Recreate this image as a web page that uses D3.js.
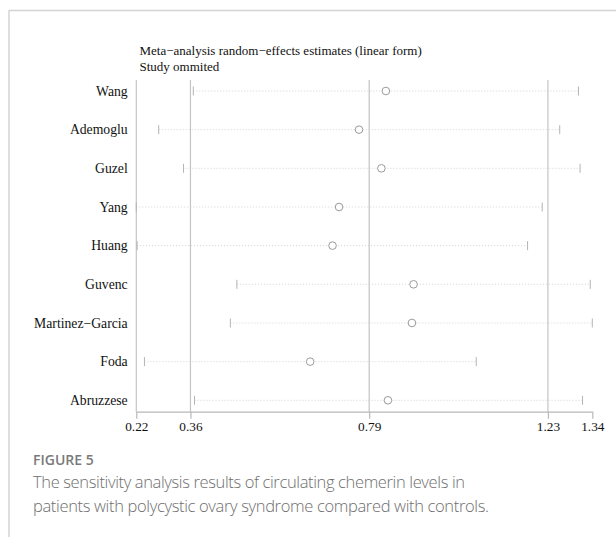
<!DOCTYPE html>
<html>
<head>
<meta charset="utf-8">
<script src="https://cdn.jsdelivr.net/npm/d3@7"></script>
<style>
  html, body { margin: 0; padding: 0; background: #fff; }
  svg { display: block; }
</style>
</head>
<body>
<svg id="chart" width="616" height="537"></svg>
<script>
// ---- data ----
const studies = ["Wang", "Ademoglu", "Guzel", "Yang", "Huang", "Guvenc", "Martinez\u2212Garcia", "Foda", "Abruzzese"];
const estimates = [0.833, 0.767, 0.822, 0.718, 0.702, 0.901, 0.897, 0.647, 0.838];
const lowerCI   = [0.360, 0.275, 0.336, 0.220, 0.222, 0.467, 0.451, 0.240, 0.363];
const upperCI   = [1.306, 1.260, 1.310, 1.217, 1.181, 1.335, 1.340, 1.055, 1.316];
const refLines  = [0.22, 0.353, 0.792, 1.231];
const tickValues = [0.22, 0.353, 0.792, 1.231, 1.34];
const tickLabels = ["0.22", "0.36", "0.79", "1.23", "1.34"];
const titleLines = ["Meta\u2212analysis random\u2212effects estimates (linear form)", "Study ommited"];
const figLabel = "FIGURE 5";
const captionLines = ["The sensitivity analysis results of circulating chemerin levels in",
                      "patients with polycystic ovary syndrome compared with controls."];
const captionWidths = [432, 456];

const svg = d3.select("#chart");
const serif = "'Liberation Serif', 'Times New Roman', Times, serif";
const sans = "'Open Sans', 'Noto Sans', sans-serif";

// frame
svg.append("line").attr("x1", 9).attr("x2", 616).attr("y1", 10.5).attr("y2", 10.5)
  .attr("stroke", "#d4d4d4").attr("stroke-width", 1.5);
svg.append("line").attr("x1", 9).attr("x2", 9).attr("y1", 10).attr("y2", 537)
  .attr("stroke", "#d4d4d4").attr("stroke-width", 1.5);

const x = d3.scaleLinear().domain([0.22, 1.34]).range([136.3, 592.3]);
const y = d3.scalePoint().domain(studies).range([91, 400.3]);
const axisY = 411.7;
const topY = 80;

// titles
svg.selectAll("text.title").data(titleLines).join("text")
  .attr("class", "title")
  .attr("x", 139.5).attr("y", (d, i) => 54.5 + i * 16)
  .attr("font-family", serif).attr("font-size", 13).attr("fill", "#111")
  .text(d => d);

// reference vertical lines
svg.selectAll("line.ref").data(refLines).join("line")
  .attr("class", "ref")
  .attr("x1", d => x(d)).attr("x2", d => x(d))
  .attr("y1", topY).attr("y2", axisY)
  .attr("stroke", "#c4c4c4").attr("stroke-width", 1.2);

const rows = studies.map((s, i) => ({ s, est: estimates[i], lo: lowerCI[i], hi: upperCI[i] }));

// dotted CI lines
svg.selectAll("line.ci").data(rows).join("line")
  .attr("class", "ci")
  .attr("x1", d => x(d.lo)).attr("x2", d => x(d.hi))
  .attr("y1", d => y(d.s)).attr("y2", d => y(d.s))
  .attr("stroke", "#c8c8c8").attr("stroke-width", 0.8).attr("stroke-dasharray", "1,2");

// CI end ticks
["lo", "hi"].forEach(k => {
  svg.selectAll("line.end-" + k).data(rows).join("line")
    .attr("class", "end-" + k)
    .attr("x1", d => x(d[k])).attr("x2", d => x(d[k]))
    .attr("y1", d => y(d.s) - 4.5).attr("y2", d => y(d.s) + 4.5)
    .attr("stroke", "#b4b4b4").attr("stroke-width", 1);
});

// estimate circles
svg.selectAll("circle.est").data(rows).join("circle")
  .attr("class", "est")
  .attr("cx", d => x(d.est)).attr("cy", d => y(d.s)).attr("r", 3.8)
  .attr("fill", "#fff").attr("stroke", "#9a9a9a").attr("stroke-width", 1);

// row labels
svg.selectAll("text.lab").data(rows).join("text")
  .attr("class", "lab")
  .attr("x", 127.7).attr("y", d => y(d.s) + 4.6)
  .attr("text-anchor", "end")
  .attr("font-family", serif).attr("font-size", 13.7).attr("fill", "#111")
  .text(d => d.s);

// x axis
const axis = d3.axisBottom(x).tickValues(tickValues)
  .tickFormat((d, i) => tickLabels[i]).tickSize(7).tickSizeOuter(0);
const g = svg.append("g").attr("transform", `translate(0,${axisY})`).call(axis);
g.select(".domain").attr("stroke", "#b8b8b8").attr("stroke-width", 1.2);
g.selectAll(".tick line").attr("stroke", "#b8b8b8").attr("stroke-width", 1.2);
g.selectAll(".tick text").attr("font-family", serif).attr("font-size", 13.3).attr("fill", "#111");

// caption
svg.append("text").attr("x", 33).attr("y", 464.5)
  .attr("font-family", sans).attr("font-size", 14).attr("font-weight", 600).attr("fill", "#7a7a7a")
  .text(figLabel);
svg.selectAll("text.cap").data(captionLines).join("text")
  .attr("class", "cap")
  .attr("x", 33).attr("y", (d, i) => 487.5 + i * 24)
  .attr("font-family", sans).attr("font-size", 16.5).attr("font-weight", 300).attr("fill", "#6e6e6e")
  .attr("textLength", (d, i) => captionWidths[i]).attr("lengthAdjust", "spacing")
  .text(d => d);
</script>
</body>
</html>
